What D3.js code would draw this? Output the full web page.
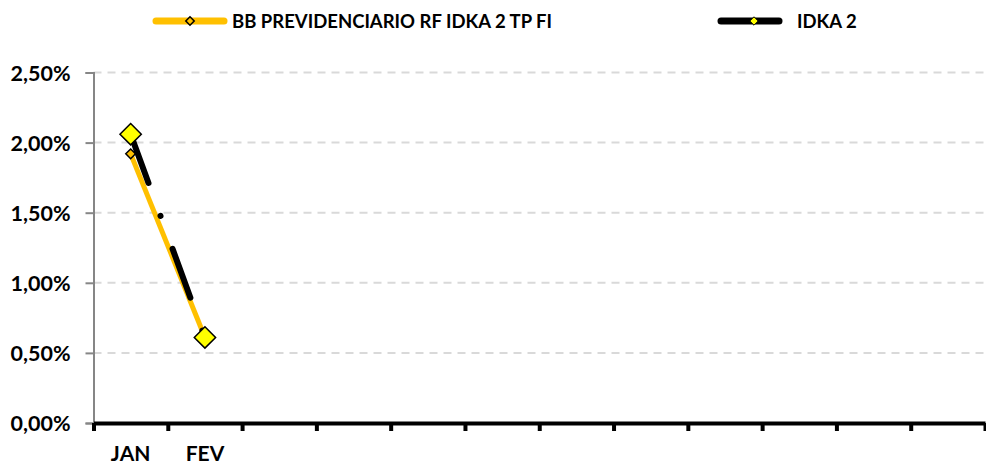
<!DOCTYPE html>
<html>
<head>
<meta charset="utf-8">
<script src="https://cdn.jsdelivr.net/npm/d3@7"></script>
<style>
    body { margin: 0; background: #ffffff; }
    text { font-family: Lato, "Open Sans", sans-serif; font-weight: bold; fill: #000; }
</style>
</head>
<body>
<div id="chart"></div>
<script>
// chart data
const months = ["JAN", "FEV", "", "", "", "", "", "", "", "", "", ""];
const seriesNames = ["BB PREVIDENCIARIO RF IDKA 2 TP FI", "IDKA 2"];
const fundValues = [1.92, 0.61];
const idkaValues = [2.06, 0.61];
const yTicks = [0, 0.5, 1, 1.5, 2, 2.5];

// svg setup
let svgWidth = 986;
let svgHeight = 467;
let margin = {
    top: 72.5,
    bottom: 44,
    left: 93.5,
    right: 1
};
let width = svgWidth - margin.left - margin.right;
let height = svgHeight - margin.top - margin.bottom;

let svg = d3.select("#chart")
    .append("svg")
    .attr("width", svgWidth)
    .attr("height", svgHeight);

let chartGroup = svg.append("g")
    .attr("transform", `translate(${margin.left},${margin.top})`);

// scales
let xBand = d3.scaleBand()
    .domain(d3.range(months.length))
    .range([0, width]);
let xEdge = d3.scaleLinear()
    .domain([0, months.length])
    .range([0, width]);
let yScale = d3.scaleLinear()
    .domain([0, 2.5])
    .range([height, 0]);

// gridlines
chartGroup.append("g")
    .selectAll("line")
    .data(yTicks.filter(d => d > 0))
    .enter()
    .append("line")
    .attr("x1", 0)
    .attr("x2", width)
    .attr("y1", d => yScale(d))
    .attr("y2", d => yScale(d))
    .attr("stroke", "#d9d9d9")
    .attr("stroke-width", 2)
    .attr("stroke-dasharray", "8,6");

// y axis
let leftAxis = d3.axisLeft(yScale)
    .tickValues(yTicks)
    .tickSize(8)
    .tickPadding(15)
    .tickFormat(d => d.toFixed(2).replace(".", ",") + "%");
let yAxis = chartGroup.append("g").call(leftAxis);
yAxis.select(".domain").attr("stroke", "#868686").attr("stroke-width", 2);
yAxis.selectAll(".tick line").attr("stroke", "#868686").attr("stroke-width", 2);
yAxis.selectAll(".tick text")
    .attr("font-size", "21.5px")
    .attr("dy", "0.36em");

// x axis (ticks between categories)
let bottomAxis = d3.axisBottom(xEdge)
    .tickValues(d3.range(months.length + 1))
    .tickSize(8)
    .tickSizeOuter(0)
    .tickFormat("");
let xAxis = chartGroup.append("g")
    .attr("transform", `translate(0,${height})`)
    .call(bottomAxis);
xAxis.select(".domain").attr("stroke", "#000").attr("stroke-width", 4);
xAxis.selectAll(".tick line").attr("stroke", "#000").attr("stroke-width", 4);

// category labels
let labelAxis = d3.axisBottom(xBand)
    .tickSize(0)
    .tickPadding(23)
    .tickFormat(i => months[i]);
let xLabels = chartGroup.append("g")
    .attr("transform", `translate(0,${height})`)
    .call(labelAxis);
xLabels.select(".domain").remove();
xLabels.selectAll(".tick text").attr("font-size", "21px");

let xPos = (d, i) => xBand(i) + xBand.bandwidth() / 2;
let line = d3.line()
    .x(xPos)
    .y(d => yScale(d));

let diamond = d3.symbol().type(d3.symbolDiamond2);

// fund series
chartGroup.append("path")
    .datum(fundValues)
    .attr("d", line)
    .attr("fill", "none")
    .attr("stroke", "#ffc000")
    .attr("stroke-width", 5);
chartGroup.selectAll(".fund-marker")
    .data(fundValues)
    .enter()
    .append("path")
    .attr("class", "fund-marker")
    .attr("d", diamond.size(60))
    .attr("transform", (d, i) => `translate(${xPos(d, i)},${yScale(d)})`)
    .attr("fill", "#ffc000")
    .attr("stroke", "#000")
    .attr("stroke-width", 1.5);

// benchmark series
chartGroup.append("path")
    .datum(idkaValues)
    .attr("d", line)
    .attr("fill", "none")
    .attr("stroke", "#000")
    .attr("stroke-width", 6)
    .attr("stroke-linecap", "round")
    .attr("stroke-dasharray", "52,35,0.1,35");
chartGroup.selectAll(".idka-marker")
    .data(idkaValues)
    .enter()
    .append("path")
    .attr("class", "idka-marker")
    .attr("d", diamond.size(290))
    .attr("transform", (d, i) => `translate(${xPos(d, i)},${yScale(d)})`)
    .attr("fill", "#ffff00")
    .attr("stroke", "#000")
    .attr("stroke-width", 1.5);

// legend
let legend = svg.append("g").attr("transform", "translate(0,21)");

legend.append("line")
    .attr("x1", 156).attr("x2", 224)
    .attr("stroke", "#ffc000")
    .attr("stroke-width", 7)
    .attr("stroke-linecap", "round");
legend.append("path")
    .attr("d", diamond.size(45))
    .attr("transform", "translate(190,0)")
    .attr("fill", "#ffc000")
    .attr("stroke", "#000")
    .attr("stroke-width", 1.5);
legend.append("text")
    .attr("x", 232)
    .attr("dy", "0.36em")
    .attr("font-size", "18.5px")
    .text(seriesNames[0]);

legend.append("line")
    .attr("x1", 721).attr("x2", 779)
    .attr("stroke", "#000")
    .attr("stroke-width", 7)
    .attr("stroke-linecap", "round");
legend.append("path")
    .attr("d", diamond.size(45))
    .attr("transform", "translate(754,0)")
    .attr("fill", "#ffff00")
    .attr("stroke", "#000")
    .attr("stroke-width", 1);
legend.append("text")
    .attr("x", 797)
    .attr("dy", "0.36em")
    .attr("font-size", "18.5px")
    .text(seriesNames[1]);
</script>
</body>
</html>
